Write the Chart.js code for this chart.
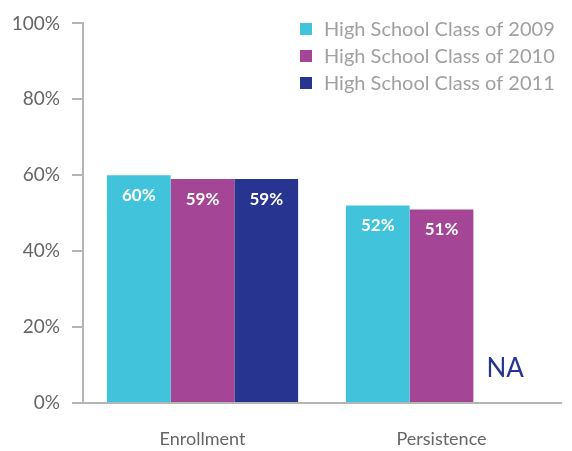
<!DOCTYPE html>
<html>
<head>
<meta charset="utf-8">
<script src="https://cdn.jsdelivr.net/npm/chart.js@4/dist/chart.umd.min.js"></script>
<style>
html,body{margin:0;padding:0;background:#fff;}
#wrap{width:572px;height:451px;position:relative;}
</style>
</head>
<body>
<div id="wrap"><canvas id="c" width="572" height="451"></canvas></div>
<script>
const categories = ["Enrollment", "Persistence"];
const seriesNames = ["High School Class of 2009", "High School Class of 2010", "High School Class of 2011"];
const class2009 = [60, 52];
const class2010 = [59, 51];
const class2011 = [59, null];
const yTicks = [0, 20, 40, 60, 80, 100];
const naText = "NA";

const colors = ["#41C3DB", "#A44596", "#273591"];
const FONT = "Lato, 'DejaVu Sans', sans-serif";

const labelPlugin = {
  id: 'labels',
  afterDatasetsDraw(chart) {
    const ctx = chart.ctx;
    const yScale = chart.scales.y;
    ctx.save();
    ctx.textAlign = 'center';
    ctx.textBaseline = 'middle';
    chart.data.datasets.forEach((ds, i) => {
      const meta = chart.getDatasetMeta(i);
      meta.data.forEach((el, j) => {
        const v = ds.data[j];
        if (v === null || v === undefined) {
          ctx.fillStyle = colors[i];
          ctx.font = "400 26px " + FONT;
          ctx.fillText(naText, el.x, yScale.getPixelForValue(9));
        } else {
          ctx.fillStyle = "#ffffff";
          ctx.font = "700 17px " + FONT;
          ctx.fillText(v + "%", el.x, el.y + 20);
        }
      });
    });
    ctx.restore();
  },
  afterDraw(chart) {
    const ctx = chart.ctx;
    ctx.save();
    ctx.textBaseline = 'middle';
    ctx.textAlign = 'left';
    ctx.font = "400 20px " + FONT;
    seriesNames.forEach((n, i) => {
      const y = 29 + i * 27;
      ctx.fillStyle = colors[i];
      ctx.fillRect(300, y - 6, 12, 12);
      ctx.fillStyle = "#a0a0a0";
      ctx.fillText(n, 324, y + 1);
    });
    ctx.restore();
  }
};

new Chart(document.getElementById('c'), {
  type: 'bar',
  data: {
    labels: categories,
    datasets: [
      { label: seriesNames[0], data: class2009, backgroundColor: colors[0] },
      { label: seriesNames[1], data: class2010, backgroundColor: colors[1] },
      { label: seriesNames[2], data: class2011, backgroundColor: colors[2] }
    ]
  },
  options: {
    responsive: false,
    animation: false,
    layout: { padding: { top: 21, right: 11, left: 0, bottom: 0 } },
    datasets: { bar: { categoryPercentage: 0.8, barPercentage: 1.0, borderWidth: 0 } },
    plugins: { legend: { display: false }, tooltip: { enabled: false } },
    scales: {
      x: {
        grid: { display: false, drawTicks: false },
        border: { display: true, color: "#b5b5b5", width: 2 },
        ticks: { color: "#666", font: { family: FONT, size: 18 }, padding: 25 },
        afterFit(s) { s.height = 48; }
      },
      y: {
        min: 0, max: 100,
        afterBuildTicks(s) { s.ticks = yTicks.map(v => ({ value: v })); },
        grid: { drawOnChartArea: false, drawTicks: true, tickLength: 11, color: "#b5b5b5", lineWidth: 2 },
        border: { display: true, color: "#b5b5b5", width: 2 },
        ticks: { color: "#666", font: { family: FONT, size: 19 }, padding: 12, callback: v => v + "%" },
        afterFit(s) { s.width = 83; }
      }
    }
  },
  plugins: [labelPlugin]
});
</script>
</body>
</html>
